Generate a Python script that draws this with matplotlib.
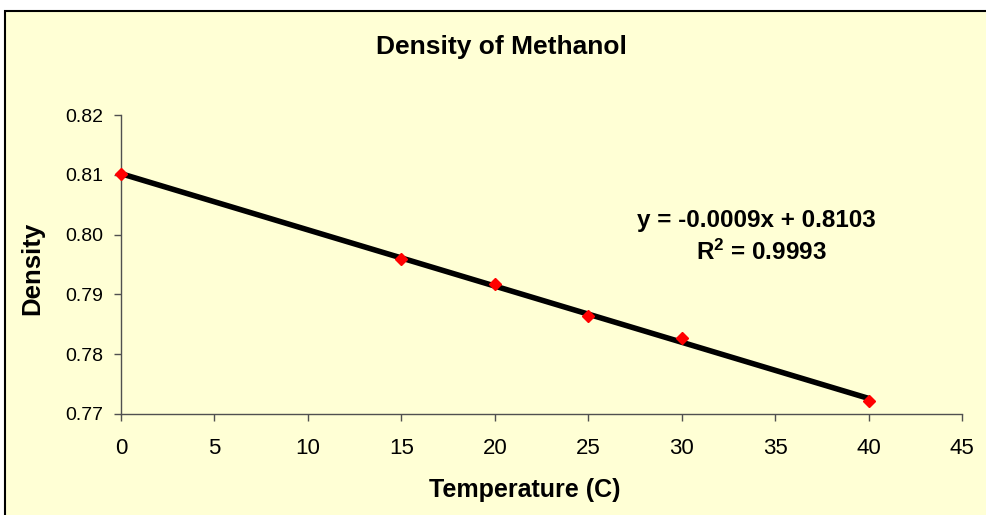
import numpy as np
import matplotlib
matplotlib.use("Agg")
import matplotlib.pyplot as plt
from matplotlib.patches import Rectangle

temperature = [0, 15, 20, 25, 30, 40]
density = [0.8101, 0.7959, 0.7917, 0.7864, 0.7827, 0.7722]
x_ticks = [0, 5, 10, 15, 20, 25, 30, 35, 40, 45]
y_ticks = [0.77, 0.78, 0.79, 0.80, 0.81, 0.82]
y_tick_labels = ["0.77", "0.78", "0.79", "0.80", "0.81", "0.82"]
title = "Density of Methanol"
x_label = "Temperature (C)"
y_label = "Density"
eq_text = "y = -0.0009x + 0.8103"
r2_text = "R$^2$ = 0.9993"

plt.rcParams['font.family'] = ['Liberation Sans', 'DejaVu Sans']
plt.rcParams['mathtext.fontset'] = 'custom'
plt.rcParams['mathtext.rm'] = 'Liberation Sans:bold'
plt.rcParams['mathtext.default'] = 'rm'

W, H = 986, 515
fig = plt.figure(figsize=(W/100, H/100), dpi=100)
fig.patch.set_facecolor('white')
bg = '#FFFFD5'
# chart area with border
rect = Rectangle((5/W, -0.1), 1.2, 1.1 - 11/H, transform=fig.transFigure,
                 facecolor=bg, edgecolor='black', linewidth=1.5, zorder=-10)
fig.patches.append(rect)

ax = fig.add_axes([121/W, 1 - 414/H, (962-121)/W, (414-115)/H])
ax.set_facecolor('none')
ax.set_zorder(5)
ax.set_xlim(0, 45)
ax.set_ylim(0.77, 0.82)

coef = np.polyfit(temperature, density, 1)
xs = np.array([min(temperature), max(temperature)])
ax.plot(xs, np.polyval(coef, xs), color='black', linewidth=4.0, zorder=2, solid_capstyle='butt')
ax.plot(temperature, density, linestyle='none', marker='D', markersize=6.5,
        color='#FF0000', markeredgecolor='#FF0000', zorder=3, clip_on=False)

for s in ['top', 'right']:
    ax.spines[s].set_visible(False)
for s in ['left', 'bottom']:
    ax.spines[s].set_color('#505050')
    ax.spines[s].set_linewidth(1.0)

ax.set_xticks(x_ticks)
ax.set_xticklabels([str(t) for t in x_ticks])
ax.set_yticks(y_ticks)
ax.set_yticklabels(y_tick_labels)
ax.tick_params(direction='out', length=5, width=1.0, color='#505050', labelcolor='black')
ax.tick_params(axis='x', pad=12, labelsize=16)
ax.tick_params(axis='y', pad=8, labelsize=14)

fig.text(501/W, 1 - 47/H, title, ha='center', va='center', fontsize=19, fontweight='bold')
fig.text(525/W, 1 - 490/H, x_label, ha='center', va='center', fontsize=18, fontweight='bold')
fig.text(32/W, 1 - 268/H, y_label, ha='center', va='center', fontsize=18.5,
         fontweight='bold', rotation=90)
fig.text(756/W, 1 - 220/H, eq_text, ha='center', va='center', fontsize=17.5, fontweight='bold')
fig.text(761/W, 1 - 252/H, r2_text, ha='center', va='center', fontsize=17.5, fontweight='bold')

fig.savefig('out.png', dpi=100, facecolor=fig.get_facecolor())
